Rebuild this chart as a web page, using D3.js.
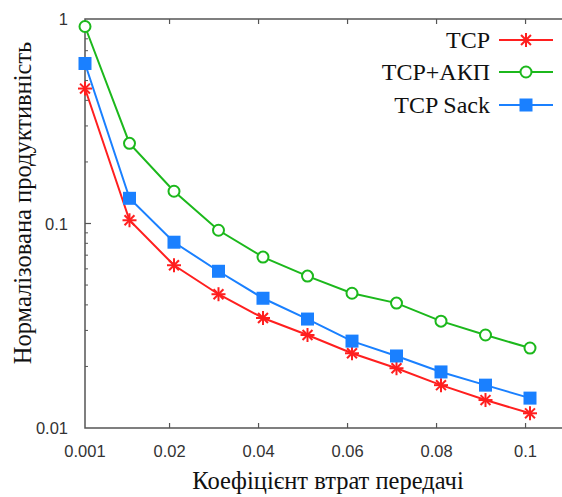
<!DOCTYPE html>
<html>
<head>
<meta charset="utf-8">
<script src="https://cdn.jsdelivr.net/npm/d3@7"></script>
</head>
<body style="margin:0">
<div id="wrapper"></div>
<script>
// Data
var lossRate = [0.001, 0.011, 0.021, 0.031, 0.041, 0.051, 0.061, 0.071, 0.081, 0.091, 0.101]
var tcp      = [0.457, 0.1037, 0.0625, 0.0451, 0.0345, 0.0285, 0.0232, 0.0196, 0.0162, 0.0137, 0.0118]
var tcpAkp   = [0.919, 0.2465, 0.1438, 0.0927, 0.0685, 0.0553, 0.0456, 0.0408, 0.0333, 0.0285, 0.0246]
var tcpSack  = [0.606, 0.1328, 0.081, 0.0584, 0.0431, 0.0341, 0.0266, 0.0225, 0.0188, 0.0162, 0.0140]
var seriesNames = ["TCP", "TCP+АКП", "TCP Sack"]
var xTicks = [0.001, 0.02, 0.04, 0.06, 0.08, 0.1]
var yTicks = [0.01, 0.1, 1]

var serif = "'Liberation Serif'"
var sans = "'Liberation Sans'"

var color = d3.scaleOrdinal()
  .domain(seriesNames)
  .range(["#ff1f1f", "#1cb81c", "#1a80ff"])

var width = 562, height = 497
var margin = { top: 19, left: 85, bottom: 69 }

var svg = d3.select("#wrapper")
  .append("svg")
  .attr("width", width)
  .attr("height", height)

var x = d3.scaleLinear()
  .domain([0.001, 0.11])
  .range([margin.left, margin.left + 0.109 * 4450])

var y = d3.scaleLog()
  .domain([0.01, 1])
  .range([height - margin.bottom, margin.top])

var axisColor = "#555"
var plotRight = x(0.11)

// frame: left, bottom, top
svg.append("path")
  .attr("d", "M" + plotRight + "," + y(1) + "H" + x(0.001) + "V" + y(0.01) + "H" + plotRight)
  .attr("fill", "none")
  .attr("stroke", axisColor)
  .attr("stroke-width", 1.5)

// x ticks (inward, bottom and top)
xTicks.slice(1).forEach(function (t) {
  svg.append("line")
    .attr("x1", x(t)).attr("x2", x(t))
    .attr("y1", y(0.01)).attr("y2", y(0.01) - 5)
    .attr("stroke", axisColor).attr("stroke-width", 1.2)
  svg.append("line")
    .attr("x1", x(t)).attr("x2", x(t))
    .attr("y1", y(1)).attr("y2", y(1) + 5)
    .attr("stroke", axisColor).attr("stroke-width", 1.2)
})

// y minor ticks
var minor = []
;[0.01, 0.1].forEach(function (d) {
  for (var k = 2; k <= 9; k++) minor.push(d * k)
})
svg.selectAll(".minor")
  .data(minor)
  .enter()
  .append("line")
  .attr("x1", x(0.001)).attr("x2", x(0.001) + 3)
  .attr("y1", d => y(d)).attr("y2", d => y(d))
  .attr("stroke", axisColor).attr("stroke-width", 1)

svg.append("line")
  .attr("x1", x(0.001)).attr("x2", x(0.001) + 6)
  .attr("y1", y(0.1)).attr("y2", y(0.1))
  .attr("stroke", axisColor).attr("stroke-width", 1.2)

// tick labels
svg.selectAll(".xlab")
  .data(xTicks)
  .enter()
  .append("text")
  .attr("x", d => x(d))
  .attr("y", y(0.01) + 29)
  .attr("text-anchor", "middle")
  .attr("font-family", sans)
  .attr("font-size", 16.5)
  .attr("fill", "#333")
  .text(d => d)

svg.selectAll(".ylab")
  .data(yTicks)
  .enter()
  .append("text")
  .attr("x", x(0.001) - 17)
  .attr("y", d => y(d) + 6)
  .attr("text-anchor", "end")
  .attr("font-family", sans)
  .attr("font-size", 16.5)
  .attr("fill", "#333")
  .text(d => d)

// axis titles
svg.append("text")
  .attr("x", 328)
  .attr("y", 489)
  .attr("text-anchor", "middle")
  .attr("font-family", serif)
  .attr("font-size", 24.5)
  .attr("fill", "#111")
  .text("Коефіцієнт втрат передачі")

svg.append("text")
  .attr("transform", "translate(31," + 203 + ") rotate(-90)")
  .attr("text-anchor", "middle")
  .attr("font-family", serif)
  .attr("font-size", 24.5)
  .attr("fill", "#111")
  .text("Нормалізована продуктивність")

// lines + markers
var allSeries = [tcp, tcpAkp, tcpSack]
var line = d3.line()
  .x((d, i) => x(lossRate[i]))
  .y(d => y(d))

function drawMarker(g, name, cx, cy) {
  var c = color(name)
  if (name === "TCP") {
    var r = 7
    for (var a = 0; a < 4; a++) {
      var ang = a * Math.PI / 4
      g.append("line")
        .attr("x1", cx - r * Math.cos(ang)).attr("y1", cy - r * Math.sin(ang))
        .attr("x2", cx + r * Math.cos(ang)).attr("y2", cy + r * Math.sin(ang))
        .attr("stroke", c).attr("stroke-width", 2)
    }
  } else if (name === "TCP+АКП") {
    g.append("circle")
      .attr("cx", cx).attr("cy", cy).attr("r", 5.5)
      .attr("fill", "#fff").attr("stroke", c).attr("stroke-width", 2)
  } else {
    g.append("rect")
      .attr("x", cx - 6.5).attr("y", cy - 6.5)
      .attr("width", 13).attr("height", 13)
      .attr("fill", c)
  }
}

seriesNames.forEach(function (name, si) {
  var g = svg.append("g")
  g.append("path")
    .datum(allSeries[si])
    .attr("d", line)
    .attr("fill", "none")
    .attr("stroke", color(name))
    .attr("stroke-width", 2)
  allSeries[si].forEach(function (v, i) {
    drawMarker(g, name, x(lossRate[i]), y(v))
  })
})

// legend
var legendY = [40, 72, 105]
seriesNames.forEach(function (name, i) {
  var g = svg.append("g")
  g.append("text")
    .attr("x", 490)
    .attr("y", legendY[i] + 8)
    .attr("text-anchor", "end")
    .attr("font-family", serif)
    .attr("font-size", 24)
    .attr("fill", "#111")
    .text(name)
  g.append("line")
    .attr("x1", 499).attr("x2", 553)
    .attr("y1", legendY[i]).attr("y2", legendY[i])
    .attr("stroke", color(name)).attr("stroke-width", 2)
  drawMarker(g, name, 526, legendY[i])
})
</script>
</body>
</html>
